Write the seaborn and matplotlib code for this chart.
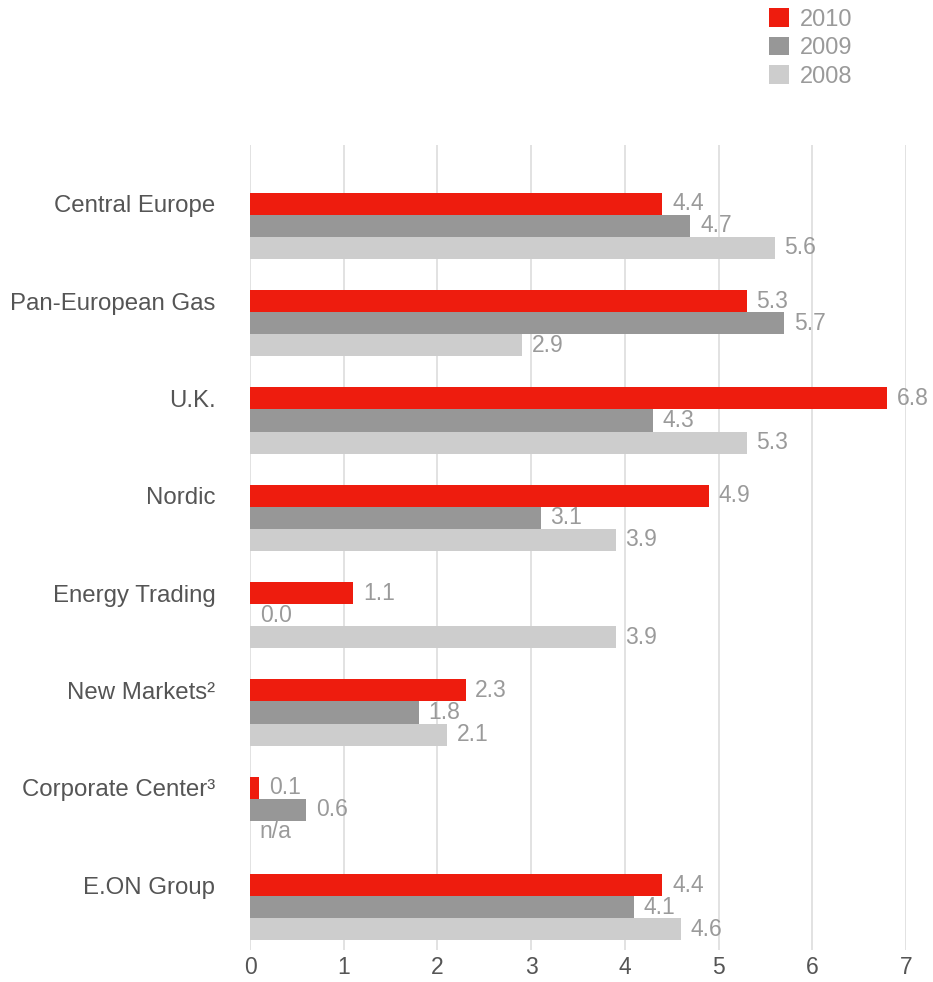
import numpy as np
import pandas as pd
import matplotlib
matplotlib.use("Agg")
import matplotlib.pyplot as plt
import seaborn as sns
from matplotlib.patches import Patch

categories = ["Central Europe", "Pan-European Gas", "U.K.", "Nordic",
              "Energy Trading", "New Markets²", "Corporate Center³", "E.ON Group"]
years = ["2010", "2009", "2008"]
v2010 = [4.4, 5.3, 6.8, 4.9, 1.1, 2.3, 0.1, 4.4]
v2009 = [4.7, 5.7, 4.3, 3.1, 0.0, 1.8, 0.6, 4.1]
v2008 = [5.6, 2.9, 5.3, 3.9, 3.9, 2.1, np.nan, 4.6]
x_ticks = [0, 1, 2, 3, 4, 5, 6, 7]

colors = {"2010": "#EE1C0E", "2009": "#979797", "2008": "#CDCDCD"}

sns.set_theme(style="white")
plt.rcParams['font.family'] = ['Liberation Sans', 'DejaVu Sans']

rows = []
for yr, vals in zip(years, [v2010, v2009, v2008]):
    for c, v in zip(categories, vals):
        rows.append({"category": c, "year": yr, "value": v})
df = pd.DataFrame(rows)
df["plot_value"] = df["value"].fillna(0.0)

fig = plt.figure(figsize=(9.33, 9.82), dpi=100)
ax = fig.add_axes([0.268, 0.0326, 0.7031, 0.8197])

sns.barplot(data=df, y="category", x="plot_value", hue="year", order=categories,
            hue_order=years, palette=colors, orient="h", width=0.68,
            errorbar=None, legend=False, ax=ax, saturation=1, linewidth=0)

for cont, yr in zip(ax.containers, years):
    sub = df[df["year"] == yr].set_index("category").loc[categories]
    labels = ["n/a" if pd.isna(v) else f"{v:.1f}" for v in sub["value"]]
    ax.bar_label(cont, labels=labels, padding=7, color="#9A9A9A", fontsize=16.5)

ax.set_xlim(0, 7)
ax.set_ylim(7.44, -0.83)
ax.set_xticks(x_ticks)
ax.set_xticklabels([str(t) for t in x_ticks], fontsize=16.5, color="#555555")
ax.tick_params(axis="x", length=0, pad=4)
# category labels aligned with the first (2010) bar of each group
bar_h = 0.68 / 3
ax.set_yticks(np.arange(len(categories)) - bar_h)
ax.set_yticklabels(categories, fontsize=17.3, color="#555555")
ax.tick_params(axis="y", length=0, pad=25)
ax.set_xlabel("")
ax.set_ylabel("")
ax.grid(axis="x", color="#DDDDDD", linewidth=1.2)
ax.set_axisbelow(True)
for s in ax.spines.values():
    s.set_visible(False)

handles = [Patch(facecolor=colors[y], edgecolor="none", label=y) for y in years]
leg = fig.legend(handles=handles, loc="upper left", bbox_to_anchor=(0.817, 0.999),
                 frameon=False, fontsize=17, handlelength=0.85, handleheight=0.85,
                 labelspacing=0.25, handletextpad=0.45, borderaxespad=0,
                 borderpad=0.3)
for t in leg.get_texts():
    t.set_color("#9A9A9A")

fig.savefig("out.png", dpi=100)
